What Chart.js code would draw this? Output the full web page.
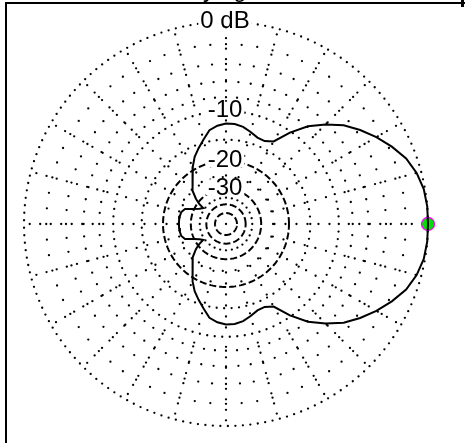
<!DOCTYPE html>
<html><head><meta charset="utf-8">
<script src="https://cdn.jsdelivr.net/npm/chart.js@4.4.1/dist/chart.umd.min.js"></script>
<style>html,body{margin:0;padding:0;background:#fff;}canvas{display:block;}</style>
</head><body>
<canvas id="c" width="465" height="443"></canvas>
<script>
// ---- data (azimuth angle in degrees, gain in dB) ----
const angleDeg = [0,5,10,15,20,25,30,35,40,45,50,55,60,65,70,75,80,85,90,95,100,105,110,115,120,125,130,135,140,143,145,150,155,160,165,170,175,180,
  185,190,195,200,205,210,215,217,220,225,230,235,240,245,250,255,260,265,270,275,280,285,290,295,300,305,310,315,320,325,330,335,340,345,350,355,360];
const gainDb = [0,0,-0.1,-0.4,-0.9,-1.7,-2.6,-3.6,-4.7,-6.2,-7.9,-10.2,-12.9,-13.6,-13.5,-12.9,-12.3,-12.0,-12.0,-12.3,-12.9,-14.4,-15.8,-17.2,-19.1,-21.2,-23.3,-25.0,-28.1,-30.7,-34.0,-32.4,-29.8,-26.3,-25.3,-25.1,-25.0,-25.0,
  -25.0,-25.1,-25.3,-26.3,-29.8,-32.4,-34.0,-30.7,-28.1,-25.0,-23.3,-21.2,-19.1,-17.2,-15.8,-14.4,-12.9,-12.3,-12.0,-12.0,-12.3,-12.9,-13.5,-13.6,-12.9,-10.2,-7.9,-6.2,-4.7,-3.6,-2.6,-1.7,-0.9,-0.4,-0.1,0,0];
const markerAngleDeg = [0];
const markerDb = [0];
// grid rings (dB) and their style kinds
const denseRingsDb = [0,-10,-15,-35];
const sparseRingsDb = [-2,-4,-6,-8];
const wideRingsDb = [-25];
const dashedRingsDb = [-20,-30,-40,-50];
const tickLevelsDb = [0,-10,-20,-30];
const tickLabels = ['0 dB','-10','-20','-30'];

// ARRL log scale: each 2 dB multiplies the radius by 0.89
const K = 0.89;
const rad = db => Math.pow(K, -db/2);
const toXY = (deg, db) => {const a = deg*Math.PI/180, r = rad(db); return {x: r*Math.cos(a), y: r*Math.sin(a)};};
const RPX = 202;

const trace = angleDeg.map((a,i)=>toXY(a, gainDb[i]));
const marker = markerAngleDeg.map((a,i)=>toXY(a, markerDb[i]));

function ringBySpacing(db, px){
  const r = rad(db), n = Math.max(8, Math.round(2*Math.PI*r*RPX/px)), pts=[];
  for(let i=0;i<n;i++){const a=i/n*2*Math.PI; pts.push({x:r*Math.cos(a), y:r*Math.sin(a)});}
  return pts;
}
function ringByStep(db, stepDeg){
  const pts=[]; for(let a=0;a<360;a+=stepDeg) pts.push(toXY(a, db)); return pts;
}
function ringLine(db){
  const pts=[]; for(let a=0;a<=360;a+=2) pts.push(toXY(a, db)); return pts;
}
const dotPts = [];
denseRingsDb.forEach(d=>dotPts.push(...ringBySpacing(d, d===-35?6:7.5)));
sparseRingsDb.forEach(d=>dotPts.push(...ringByStep(d, 5)));
wideRingsDb.forEach(d=>dotPts.push(...ringBySpacing(d, 13)));
// radial lines every 15 degrees
for(let a=0;a<360;a+=15){
  const ang=a*Math.PI/180;
  for(let r=rad(-10)+10/RPX; r<1-4/RPX; r+=10.5/RPX) dotPts.push({x:r*Math.cos(ang), y:r*Math.sin(ang)});
  for(let r=0.24; r<rad(-10)-4/RPX; r+=11/RPX) dotPts.push({x:r*Math.cos(ang), y:r*Math.sin(ang)});
}
dotPts.push({x:0,y:0});

const datasets = [
  {label:'pattern', data:trace, showLine:true, borderColor:'#000', borderWidth:2, pointRadius:0, tension:0, fill:false, clip:false},
  {label:'max', data:marker, showLine:false, pointRadius:6.5, pointBackgroundColor:'#00e000', pointBorderColor:'#ff00ff', pointBorderWidth:1.3, clip:false},
];
dashedRingsDb.forEach(d=>datasets.push({label:'ring'+d, data:ringLine(d), showLine:true, borderColor:'#000', borderWidth:2, borderDash:[7,3], pointRadius:0, tension:0}));
datasets.push({label:'grid', data:dotPts, showLine:false, pointRadius:1.15, pointBackgroundColor:'#000', pointBorderWidth:0, clip:false});

const decor = {
  id:'decor',
  beforeDraw(chart){
    const ctx=chart.ctx; ctx.save();
    ctx.fillStyle='#fff'; ctx.fillRect(0,0,chart.width,chart.height);
    ctx.fillStyle='#000';
    ctx.fillRect(5,2,460,2);      // top frame
    ctx.fillRect(5,2,2,441);      // left frame
    ctx.fillRect(461,0,3,7);
    ctx.font='24px "Liberation Sans"'; ctx.textAlign='center'; ctx.textBaseline='alphabetic';
    ctx.fillText('y',209,-3); ctx.fillText('g',240,-3);
    ctx.restore();
  },
  afterDatasetsDraw(chart){
    const ctx=chart.ctx, xs=chart.scales.x, ys=chart.scales.y; ctx.save();
    ctx.font='24px "Liberation Sans"'; ctx.textAlign='center'; ctx.textBaseline='middle';
    tickLevelsDb.forEach((d,i)=>{
      const x=xs.getPixelForValue(0)-1, y=ys.getPixelForValue(rad(d))-1.5;
      const w=ctx.measureText(tickLabels[i]).width+4;
      ctx.fillStyle='#fff'; ctx.fillRect(x-w/2,y-8,w,16);
      ctx.fillStyle='#000'; ctx.fillText(tickLabels[i],x,y+1);
    });
    ctx.restore();
  }
};

new Chart(document.getElementById('c'), {
  type:'scatter',
  data:{datasets},
  options:{
    responsive:false, animation:false, events:[],
    layout:{padding:{left:24,right:37,top:22,bottom:17}},
    scales:{x:{type:'linear',min:-1,max:1,display:false},y:{type:'linear',min:-1,max:1,display:false}},
    plugins:{legend:{display:false},tooltip:{enabled:false}}
  },
  plugins:[decor]
});
</script>
</body></html>
